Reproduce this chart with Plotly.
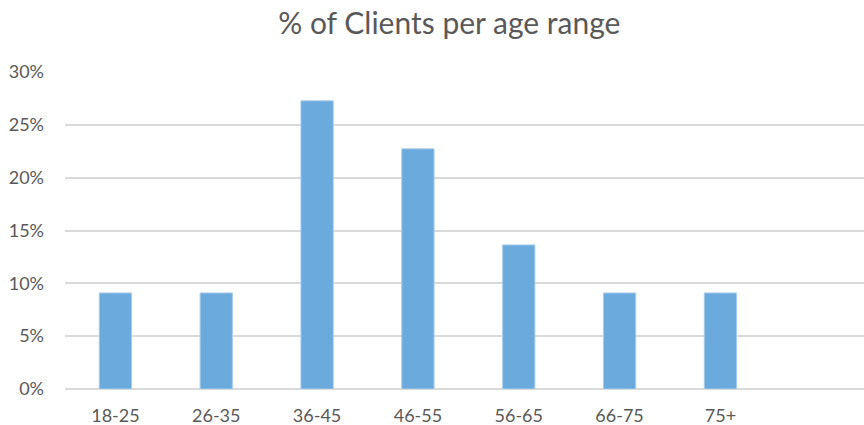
import plotly.graph_objects as go

categories = ["18-25", "26-35", "36-45", "46-55", "56-65", "66-75", "75+"]
clients = [2, 2, 6, 5, 3, 2, 2]
total = sum(clients)
shares = [c / total for c in clients]
y_ticks = [0, 0.05, 0.10, 0.15, 0.20, 0.25, 0.30]
y_tick_labels = ["0%", "5%", "10%", "15%", "20%", "25%", "30%"]

fig = go.Figure(
    go.Bar(
        x=categories,
        y=shares,
        width=0.32,
        marker=dict(color="#6aaadc", line=dict(color="#a8ccec", width=1)),
        hoverinfo="x+y",
    )
)

fig.update_layout(
    width=864,
    height=425,
    margin=dict(l=65, r=0, t=72, b=36),
    paper_bgcolor="white",
    plot_bgcolor="white",
    showlegend=False,
    title=dict(
        text="% of Clients per age range",
        x=0.52,
        xanchor="center",
        y=0.945,
        yanchor="middle",
        font=dict(family="Lato, Open Sans, sans-serif", size=30, color="#595959"),
    ),
    font=dict(family="Lato, Open Sans, sans-serif", color="#595959"),
)

fig.update_xaxes(
    type="category",
    categoryorder="array",
    categoryarray=categories,
    range=[-0.5, 7.424],
    showgrid=False,
    showline=False,
    zeroline=False,
    ticks="",
    tickfont=dict(size=18, color="#595959"),
    ticklabelstandoff=14,
)

fig.update_yaxes(
    range=[0, 0.30],
    tickvals=y_ticks,
    ticktext=y_tick_labels,
    showgrid=True,
    gridcolor="#dadada",
    gridwidth=2,
    zeroline=True,
    zerolinecolor="#dadada",
    zerolinewidth=2,
    showline=False,
    ticks="",
    tickfont=dict(size=18, color="#595959"),
    ticklabelstandoff=20,
)

fig.write_html("out.html")
